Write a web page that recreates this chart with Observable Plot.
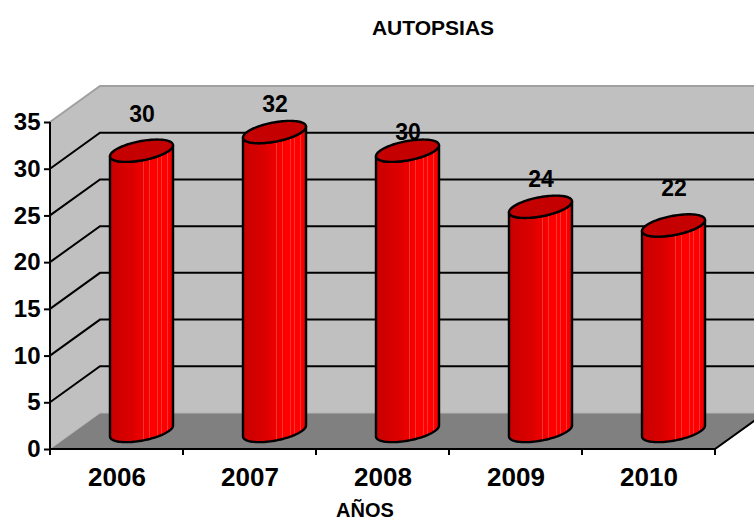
<!DOCTYPE html>
<html>
<head>
<meta charset="utf-8">
<script src="https://cdn.jsdelivr.net/npm/d3@7"></script>
<script src="https://cdn.jsdelivr.net/npm/@observablehq/plot@0.6"></script>
<style>
  html, body { margin: 0; padding: 0; background: #fff; overflow: hidden; }
  #chart svg { display: block; }
</style>
</head>
<body>
<div id="chart"></div>
<script>
// ---- data ----
const years = ["2006", "2007", "2008", "2009", "2010"];
const autopsias = [30, 32, 30, 24, 22];
const yTicks = [0, 5, 10, 15, 20, 25, 30, 35];
const chartTitle = "AUTOPSIAS";
const xTitle = "AÑOS";

const data = years.map((year, i) => ({year, value: autopsias[i], i}));

// ---- 3D look (styling constants) ----
const DX = 50, DY = -36;      // depth offset of the back wall, px
const CYL = 0.237;            // cylinder half-width as fraction of band
const DEPTH = 0.31;           // cylinder half-depth as fraction of wall depth
const FONT = "'Liberation Sans', Arial, Helvetica, sans-serif";

function poly(pts) { return "M" + pts.map(p => p.join(",")).join("L") + "Z"; }
function line(pts) { return "M" + pts.map(p => p.join(",")).join("L"); }

// walls, floor and grid
function scene(index, scales, values, dim) {
  const y = scales.y;
  const L = dim.marginLeft, R = dim.width - dim.marginRight;
  const y0 = y(0), yT = y(d3.max(yTicks));
  const g = d3.create("svg:g");
  g.append("path").attr("d", poly([[L + DX, yT + DY], [R + DX, yT + DY], [R + DX, y0 + DY], [L + DX, y0 + DY]])).attr("fill", "#c0c0c0");
  g.append("path").attr("d", poly([[L, yT], [L + DX, yT + DY], [L + DX, y0 + DY], [L, y0]])).attr("fill", "#c0c0c0");
  g.append("path").attr("d", poly([[L, y0], [R, y0], [R + DX, y0 + DY], [L + DX, y0 + DY]])).attr("fill", "#808080");
  // top edges of walls
  g.append("path").attr("d", line([[L, yT], [L + DX, yT + DY], [R + DX, yT + DY]]))
    .attr("fill", "none").attr("stroke", "#a0a0a0").attr("stroke-width", 2);
  // floor back edges
  g.append("path").attr("d", line([[L, y0], [L + DX, y0 + DY], [R + DX, y0 + DY]]))
    .attr("fill", "none").attr("stroke", "#b4b4b4").attr("stroke-width", 1);
  // gridlines
  for (const t of yTicks) {
    if (t <= 0 || t >= d3.max(yTicks)) continue;
    g.append("path").attr("d", line([[L, y(t)], [L + DX, y(t) + DY], [R + DX, y(t) + DY]]))
      .attr("fill", "none").attr("stroke", "#000").attr("stroke-width", 2);
  }
  return g.node();
}

// front edges, y axis line, x boundary ticks
function frontEdges(index, scales, values, dim) {
  const x = scales.x, y = scales.y;
  const L = dim.marginLeft, R = dim.width - dim.marginRight;
  const y0 = y(0), yT = y(d3.max(yTicks));
  const bw = x.bandwidth();
  const g = d3.create("svg:g").attr("fill", "none").attr("stroke", "#000").attr("stroke-width", 2);
  g.append("path").attr("d", line([[L, yT], [L, y0]]));
  g.append("path").attr("d", line([[L, y0], [R, y0], [R + DX, y0 + DY]]));
  const bounds = years.map(d => x(d)).concat([x(years[years.length - 1]) + bw]);
  for (const b of bounds) g.append("path").attr("d", line([[b, y0], [b, y0 + 6]]));
  return g.node();
}

// cylinders
function cylinders(index, scales, values, dim) {
  const x = scales.x, y = scales.y;
  const bw = x.bandwidth();
  const g = d3.create("svg:g");
  const defs = g.append("defs");
  const grad = defs.append("linearGradient").attr("id", "cylBody")
    .attr("x1", 0).attr("x2", 1).attr("y1", 0).attr("y2", 0);
  const base = d3.scaleLinear()
    .domain([0, 0.3, 0.42, 0.58, 0.66, 0.93, 1])
    .range(["#c80000", "#d40000", "#e40000", "#f20000", "#ff0000", "#ff0000", "#e80000"])
    .interpolate(d3.interpolateRgb);
  const stripes = [0.36, 0.47, 0.53, 0.62, 0.68, 0.75, 0.81, 0.87, 0.91];
  const w = 0.01;
  let stops = [];
  let prev = 0;
  for (const s of stripes) {
    stops.push([prev, base(prev)]);
    stops.push([s, base(s)]);
    const light = d3.interpolateRgb(base(s), "#ffffff")(0.2);
    stops.push([s, light]);
    stops.push([s + w, light]);
    stops.push([s + w, base(s + w)]);
    prev = s + w;
  }
  stops.push([prev, base(prev)]);
  stops.push([1, base(1)]);
  for (const [o, c] of stops) grad.append("stop").attr("offset", o).attr("stop-color", c);

  const hw = bw * CYL;
  const a = DEPTH * DX, b = DEPTH * DY;
  const R = Math.sqrt(Math.max(hw * hw - a * a, 1));
  const tx = Math.atan2(a, R);
  const P = (cx, cy, t) => [cx + R * Math.cos(t) + a * Math.sin(t), cy + b * Math.sin(t)];
  const N = 48;
  for (const d of data) {
    const cx = x(d.year) + bw / 2 + DX / 2;
    const ct = y(d.value) + DY / 2;
    const cb = y(0) + DY / 2;
    const pts = [];
    pts.push(P(cx, ct, tx - Math.PI));
    for (let k = 0; k <= N; k++) pts.push(P(cx, cb, tx - Math.PI + Math.PI * k / N));
    for (let k = 0; k <= N; k++) pts.push(P(cx, ct, tx - Math.PI * k / N));
    g.append("path").attr("d", poly(pts.map(p => [p[0].toFixed(2), p[1].toFixed(2)])))
      .attr("fill", "url(#cylBody)").attr("stroke", "#000").attr("stroke-width", 2.4)
      .attr("stroke-linejoin", "round");
    const top = [];
    for (let k = 0; k < 96; k++) top.push(P(cx, ct, 2 * Math.PI * k / 96));
    g.append("path").attr("d", poly(top.map(p => [p[0].toFixed(2), p[1].toFixed(2)])))
      .attr("fill", "#c40000").attr("stroke", "#000").attr("stroke-width", 2.4);
  }
  return g.node();
}

const lift = i => 19 + 9 * Math.abs(i - 2);

const chart = Plot.plot({
  width: 754,
  height: 526,
  marginLeft: 50,
  marginRight: 39,
  marginTop: 122,
  marginBottom: 77,
  style: {fontFamily: FONT, fontWeight: "bold", color: "#000", background: "#fff", overflow: "hidden"},
  x: {type: "band", domain: years, padding: 0},
  y: {domain: [0, d3.max(yTicks)]},
  marks: [
    scene,
    cylinders,
    frontEdges,
    Plot.axisY(yTicks, {tickSize: 6, tickPadding: 4, fontSize: 24, fontWeight: "bold", strokeWidth: 2, label: null}),
    Plot.axisX({tickSize: 0, tickPadding: 18, fontSize: 26, fontWeight: "bold", label: null}),
    ...[0, 1, 2].map(k => Plot.text(data.filter(d => Math.abs(d.i - 2) === k), {
      x: "year", y: "value", text: d => String(d.value),
      dx: DX / 2, dy: DY / 2 - lift(2 + k),
      fontSize: 23, fontWeight: "bold", fill: "#000"
    })),
    Plot.text([chartTitle], {frameAnchor: "top", dx: DX, dy: -102, fontSize: 21, fontWeight: "bold", fill: "#000"}),
    Plot.text([xTitle], {frameAnchor: "bottom", dx: -18, dy: 67, fontSize: 20, fontWeight: "bold", fill: "#000"})
  ]
});
document.getElementById("chart").appendChild(chart);
</script>
</body>
</html>
